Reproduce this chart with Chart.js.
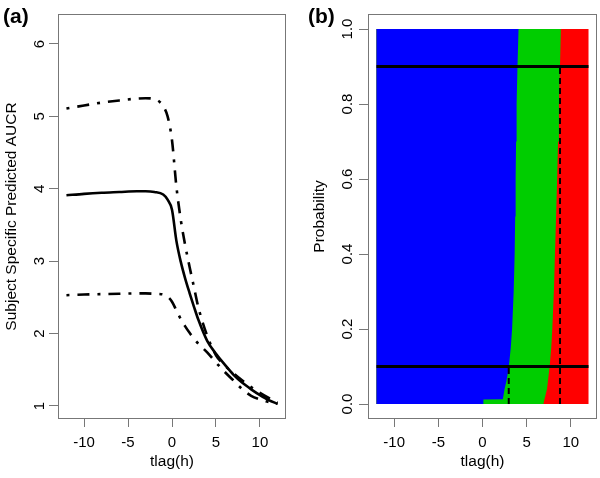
<!DOCTYPE html>
<html><head><meta charset="utf-8">
<script src="https://cdn.jsdelivr.net/npm/chart.js@4.4.1/dist/chart.umd.min.js"></script>
<style>
html,body{margin:0;padding:0;background:#fff;}
#wrap{position:relative;width:600px;height:478px;overflow:hidden;background:#fff;}
canvas{position:absolute;top:0;}
#ca{left:0;}
#cb{left:300px;}
</style></head><body>
<div id="wrap"><canvas id="ca" width="300" height="478"></canvas><canvas id="cb" width="300" height="478"></canvas></div>
<script>
// ---- Panel (a) data ----
const tlagA      = [-12, -10, -8, -6, -4, -3, -2, -1, -0.5, 0, 0.5, 1, 1.5, 2, 2.5, 3, 4, 5, 6, 7, 8, 9, 10, 11, 12];
const aucrMedian = [3.91, 3.93, 3.945, 3.955, 3.965, 3.965, 3.955, 3.92, 3.85, 3.71, 3.28, 2.99, 2.76, 2.56, 2.37, 2.19, 1.90, 1.72, 1.57, 1.43, 1.32, 1.23, 1.15, 1.08, 1.03];
const aucrUpper  = [5.11, 5.15, 5.19, 5.22, 5.245, 5.25, 5.24, 5.14, 5.00, 4.67, 4.03, 3.57, 3.22, 2.92, 2.64, 2.36, 1.97, 1.70, 1.56, 1.45, 1.35, 1.26, 1.18, 1.11, 1.05];
const aucrLower  = [2.53, 2.54, 2.545, 2.55, 2.555, 2.555, 2.55, 2.54, 2.51, 2.44, 2.32, 2.20, 2.10, 2.01, 1.93, 1.86, 1.74, 1.60, 1.47, 1.35, 1.23, 1.14, 1.09, 1.055, 1.03];
const xTicks  = [-10, -5, 0, 5, 10];
const yTicksA = [1, 2, 3, 4, 5, 6];

// ---- Panel (b) data ----
const probLevels    = [0, 0.012, 0.013, 0.04, 0.06, 0.08, 0.1, 0.15, 0.2, 0.3, 0.4, 0.5, 0.6, 0.7, 0.8, 0.9, 1.0];
const blueGreenEdge = [0.1, 0.1, 2.3, 2.5, 2.7, 2.85, 2.98, 3.2, 3.35, 3.53, 3.64, 3.7, 3.75, 3.8, 3.86, 3.96, 4.08];
const greenRedEdge  = [6.9, 7.0, 7.02, 7.3, 7.4, 7.5, 7.6, 7.78, 7.9, 8.08, 8.2, 8.33, 8.45, 8.55, 8.65, 8.77, 8.87];
const refProb   = [0.1, 0.9];
const quantileX = [2.97, 8.77];
const yTicksB   = [0, 0.2, 0.4, 0.6, 0.8, 1.0];
const tlagRange = [-12, 12];

const FONT = "'Liberation Sans', Arial, sans-serif";
const AXIS_COLOR = '#777';

const boxPlugin = {
  id: 'box',
  afterDraw(chart) {
    const {ctx, chartArea: a} = chart;
    ctx.save();
    ctx.strokeStyle = AXIS_COLOR;
    ctx.lineWidth = 1;
    ctx.strokeRect(Math.round(a.left) + 0.5, Math.round(a.top) + 0.5,
                   Math.round(a.right - a.left) - 1, Math.round(a.bottom - a.top) - 1);
    ctx.restore();
  }
};
const panelLabel = {
  id: 'panelLabel',
  afterDraw(chart, args, opts) {
    const ctx = chart.ctx;
    ctx.save();
    ctx.font = 'bold 21px ' + FONT;
    ctx.fillStyle = '#000';
    ctx.textAlign = 'left';
    ctx.textBaseline = 'alphabetic';
    ctx.fillText(opts.text, opts.x, opts.y);
    ctx.restore();
  }
};

function xScale() {
  return {
    type: 'linear', min: -12.96, max: 12.96,
    afterBuildTicks: s => { s.ticks = xTicks.map(v => ({value: v})); },
    afterFit: s => { s.height = 59; s.paddingLeft = 0; s.paddingRight = 0; },
    grid: {display: true, drawOnChartArea: false, drawTicks: true, tickLength: 8, color: AXIS_COLOR},
    border: {display: false},
    ticks: {color: '#000', font: {family: FONT, size: 15}, padding: 7, autoSkip: false,
            maxRotation: 0, minRotation: 0, callback: v => String(v)},
    title: {display: true, text: 'tlag(h)', color: '#000', font: {family: FONT, size: 15.5},
            padding: {top: 0, bottom: 6.5}}
  };
}
function yScale(min, max, ticks, width, pad, fmt, title, titlePad) {
  return {
    type: 'linear', min: min, max: max,
    afterBuildTicks: s => { s.ticks = ticks.map(v => ({value: v})); },
    afterFit: s => { s.width = width; s.paddingTop = 0; s.paddingBottom = 0; },
    grid: {display: true, drawOnChartArea: false, drawTicks: true, tickLength: 9, color: AXIS_COLOR},
    border: {display: false},
    ticks: {color: '#000', font: {family: FONT, size: 15}, padding: pad, autoSkip: false,
            minRotation: 90, maxRotation: 90, crossAlign: 'center', callback: fmt},
    title: {display: true, text: title, color: '#000', font: {family: FONT, size: 15.5},
            padding: {top: titlePad, bottom: 0}}
  };
}
const pts = (xs, ys) => xs.map((x, i) => ({x: x, y: ys[i]}));
const curve = (ys, dash) => ({
  data: pts(tlagA, ys), borderColor: '#000', borderWidth: 2.6, borderDash: dash,
  pointRadius: 0, fill: false, cubicInterpolationMode: 'monotone'
});

new Chart(document.getElementById('ca'), {
  type: 'line',
  data: {datasets: [
    curve(aucrMedian, []),
    curve(aucrUpper, [3, 8, 12, 8]),
    curve(aucrLower, [3, 8, 12, 8])
  ]},
  options: {
    responsive: false, animation: false, devicePixelRatio: 1,
    layout: {padding: {left: 0, right: 14, top: 14, bottom: 0}},
    scales: {
      x: xScale(),
      y: yScale(0.82, 6.414, yTicksA, 58, 4.8, v => String(v), 'Subject Specific Predicted AUCR', 2.6)
    },
    plugins: {legend: {display: false}, tooltip: {enabled: false},
              panelLabel: {text: '(a)', x: 3, y: 23}}
  },
  plugins: [boxPlugin, panelLabel]
});

const [xL, xR] = tlagRange;
const bluePoly  = [{x: xL, y: 0}].concat(pts(blueGreenEdge, probLevels), [{x: xL, y: 1}]);
const greenPoly = [{x: xL, y: 0}].concat(pts(greenRedEdge, probLevels), [{x: xL, y: 1}]);
const redPoly   = [{x: xL, y: 0}, {x: xR, y: 0}, {x: xR, y: 1}, {x: xL, y: 1}];
const area = (data, color) => ({data: data, fill: 'shape', backgroundColor: color,
  borderColor: 'rgba(0,0,0,0)', borderWidth: 0, pointRadius: 0, tension: 0});

const dsB = [];
refProb.forEach(p => dsB.push({data: [{x: xL, y: p}, {x: xR, y: p}], borderColor: '#000',
  borderWidth: 3, pointRadius: 0, fill: false}));
quantileX.forEach((q, i) => dsB.push({data: [{x: q, y: 0}, {x: q, y: refProb[i]}], borderColor: '#000',
  borderWidth: 2, borderDash: [6, 4], pointRadius: 0, fill: false}));
dsB.push(area(bluePoly, '#0000FF'));
dsB.push(area(greenPoly, '#00CD00'));
dsB.push(area(redPoly, '#FF0000'));

new Chart(document.getElementById('cb'), {
  type: 'line',
  data: {datasets: dsB},
  options: {
    responsive: false, animation: false, devicePixelRatio: 1,
    layout: {padding: {left: 0, right: 3, top: 14, bottom: 0}},
    scales: {
      x: xScale(),
      y: yScale(-0.04, 1.04, yTicksB, 68, 0.6, v => v.toFixed(1), 'Probability', 10)
    },
    plugins: {legend: {display: false}, tooltip: {enabled: false},
              panelLabel: {text: '(b)', x: 8, y: 23}}
  },
  plugins: [boxPlugin, panelLabel]
});
</script>
</body></html>
